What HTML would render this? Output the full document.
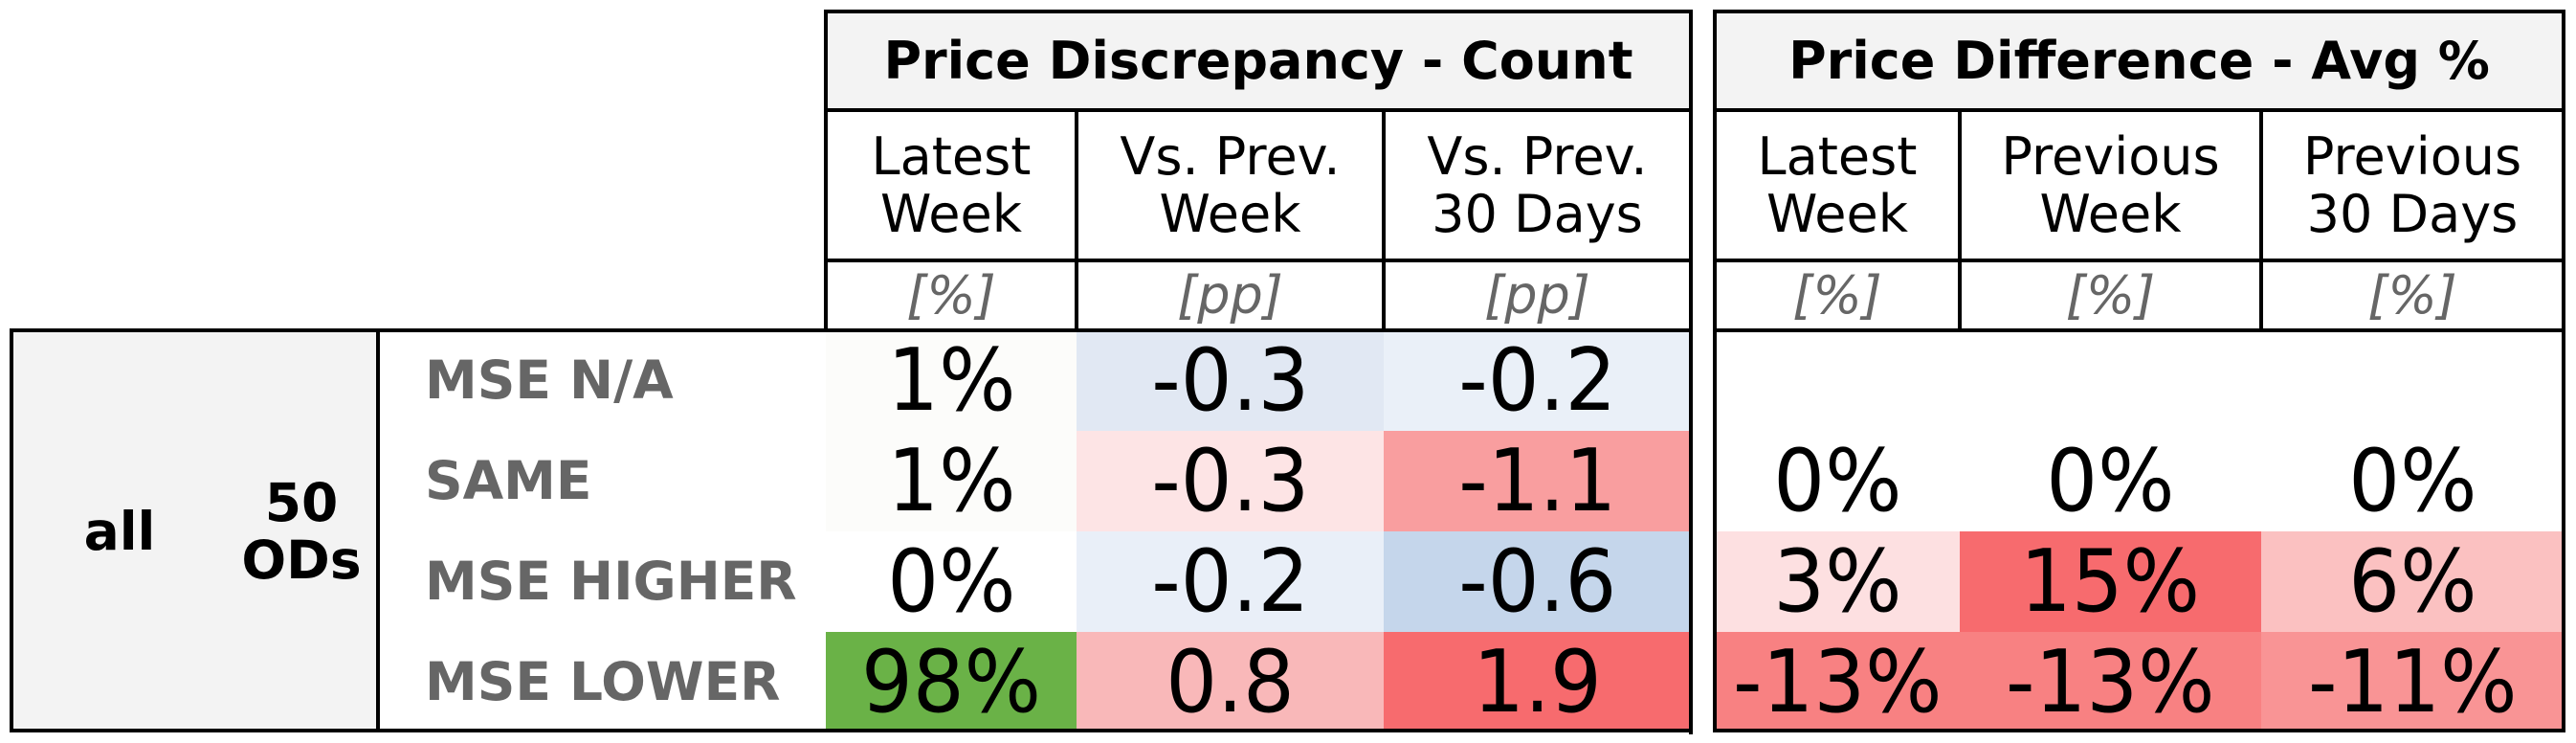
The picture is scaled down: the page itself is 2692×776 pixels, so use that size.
<!DOCTYPE html>
<html><head><meta charset="utf-8"><style>
body{margin:0;background:#fff;width:2692px;height:776px;position:relative;overflow:hidden;font-family:"DejaVu Sans","Liberation Sans",sans-serif}
.c{position:absolute;display:flex;align-items:center;justify-content:center;box-sizing:border-box;text-align:center}
.t{display:inline-block;white-space:nowrap}
.l{position:absolute;background:#000}
</style></head><body>
<div id="root"></div>
<script>
const rowLabels=["MSE N/A","SAME","MSE HIGHER","MSE LOWER"];
const countCols=["Latest\nWeek","Vs. Prev.\nWeek","Vs. Prev.\n30 Days"];
const countUnits=["[%]","[pp]","[pp]"];
const diffCols=["Latest\nWeek","Previous\nWeek","Previous\n30 Days"];
const diffUnits=["[%]","[%]","[%]"];
const latestWeek=["1%","1%","0%","98%"];
const vsPrevWeek=["-0.3","-0.3","-0.2","0.8"];
const vsPrev30=["-0.2","-1.1","-0.6","1.9"];
const diffLatest=["","0%","3%","-13%"];
const diffPrevWeek=["","0%","15%","-13%"];
const diffPrev30=["","0%","6%","-11%"];
const colLatest=["#fcfcfa","#fcfcfa","#ffffff","#6ab247"];
const colPrevWeek=["#e1e8f3","#fde4e5","#e9eff8","#f9b8b9"];
const colPrev30=["#eaf0f8","#f99e9f","#c5d6eb","#f76b6e"];
const colDLatest=["#ffffff","#ffffff","#fde0e1","#f88182"];
const colDPrevWeek=["#ffffff","#ffffff","#f76b6e","#f88182"];
const colDPrev30=["#ffffff","#ffffff","#fbc1c1","#f99495"];

const root=document.getElementById('root');
function cell(x,y,w,h,bg,txt,fs,color,weight,style,name,sx){
  const d=document.createElement('div');d.className='c';
  d.style.cssText=`left:${x}px;top:${y}px;width:${w}px;height:${h}px;background:${bg};font-size:${fs}px;color:${color};font-weight:${weight};font-style:${style};line-height:1.1`;
  const s=document.createElement('span');s.className='t';s.innerHTML=txt.replace(/\n/g,'<br>');
  if(sx) s.style.transform=`scaleX(${sx})`;
  d.appendChild(s);
  
  
  root.appendChild(d);return d;
}
function line(x,y,w,h){const d=document.createElement('div');d.className='l';d.style.cssText=`left:${x}px;top:${y}px;width:${w}px;height:${h}px`;


root.appendChild(d);}
const rowsY=[345,450,555,660,765];
const t1=[863,1125,1446,1767], t2=[1792,2048,2363,2679];
cell(t1[0],12,t1[3]-t1[0],103,'#f3f3f3','Price Discrepancy - Count',54,'#000','bold','normal','count-header');
cell(t2[0],12,t2[3]-t2[0],103,'#f3f3f3','Price Difference - Avg %',54,'#000','bold','normal','diff-header');
for(let i=0;i<3;i++){
  cell(t1[i],115,t1[i+1]-t1[i],157,'#fff',countCols[i],54,'#000','normal','normal','count-col-header');
  cell(t1[i],272,t1[i+1]-t1[i],73,'#fff',countUnits[i],54,'#666','normal','italic','count-unit');
  cell(t2[i],115,t2[i+1]-t2[i],157,'#fff',diffCols[i],54,'#000','normal','normal','diff-col-header');
  cell(t2[i],272,t2[i+1]-t2[i],73,'#fff',diffUnits[i],54,'#666','normal','italic','diff-unit');
}
cell(12,345,383,420,'#f3f3f3','',54,'#000','bold','normal','group-cell');
cell(40,345,170,420,'transparent','all',55,'#000','bold','normal','group-all');
cell(240,345,150,420,'transparent','50\nODs',55,'#000','bold','normal','group-ods');
const cols1=[[latestWeek,colLatest],[vsPrevWeek,colPrevWeek],[vsPrev30,colPrev30]];
const cols2=[[diffLatest,colDLatest],[diffPrevWeek,colDPrevWeek],[diffPrev30,colDPrev30]];
for(let r=0;r<4;r++){
  const y=rowsY[r],h=rowsY[r+1]-y;
  const lb=cell(444,y,420,h,'#fff',rowLabels[r],55,'#666','bold','normal','row-label');
  lb.style.justifyContent='flex-start';
  for(let i=0;i<3;i++){
    cell(t1[i],y,t1[i+1]-t1[i],h,cols1[i][1][r],cols1[i][0][r],90,'#000','normal','normal','count-value',0.94);
    cell(t2[i],y,t2[i+1]-t2[i],h,cols2[i][1][r],cols2[i][0][r],90,'#000','normal','normal','diff-value',0.94);
  }
}
const B=4;
line(t1[0]-2,10,t1[3]-t1[0]+4,B);line(t1[0]-2,113,t1[3]-t1[0]+4,B);line(t1[0]-2,270,t1[3]-t1[0]+4,B);
line(t1[0]-2,10,B,337);line(t1[3]-2,10,B,757);
line(t1[1]-2,113,B,234);line(t1[2]-2,113,B,234);
line(t2[0]-2,10,t2[3]-t2[0]+4,B);line(t2[0]-2,113,t2[3]-t2[0]+4,B);line(t2[0]-2,270,t2[3]-t2[0]+4,B);
line(t2[0]-2,343,t2[3]-t2[0]+4,B);line(t2[0]-2,761,t2[3]-t2[0]+4,B);
line(t2[0]-2,10,B,755);line(t2[3]-2,10,B,755);
line(t2[1]-2,113,B,234);line(t2[2]-2,113,B,234);
line(10,343,t1[3]-8,B);line(10,761,t1[3]-8,B);line(10,343,B,422);line(393,343,B,422);
</script>
</body></html>
